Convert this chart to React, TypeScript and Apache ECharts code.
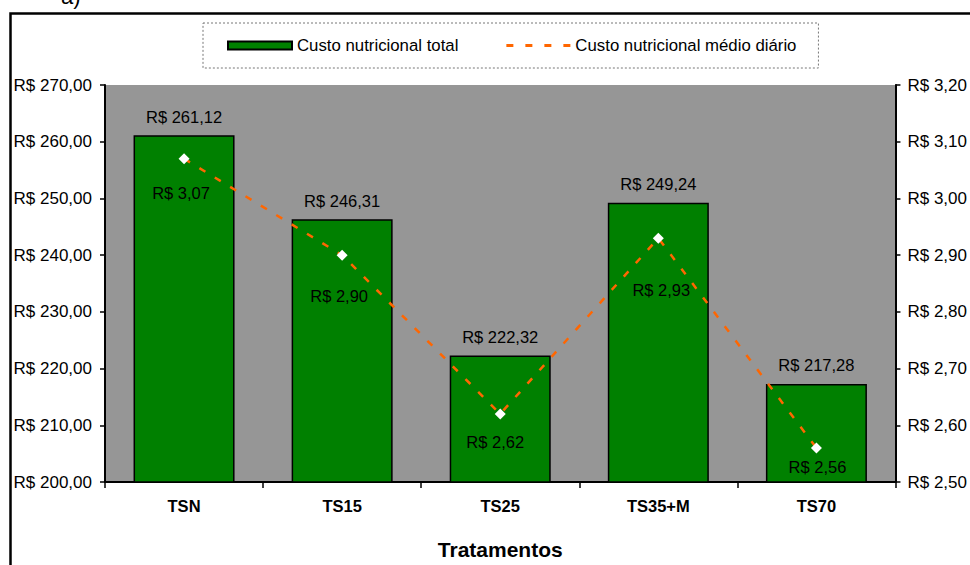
import React, { useEffect, useRef } from "react";
import * as echarts from "echarts";

const categories = ["TSN", "TS15", "TS25", "TS35+M", "TS70"];
const totalCost = [261.12, 246.31, 222.32, 249.24, 217.28];
const dailyCost = [3.07, 2.9, 2.62, 2.93, 2.56];
const seriesNames = ["Custo nutricional total", "Custo nutricional médio diário"];
const leftAxisRange = { min: 200, max: 270, interval: 10 };
const rightAxisRange = { min: 2.5, max: 3.2, interval: 0.1 };
const axisTitle = "Tratamentos";
const panelTag = "a)";

// label placement offsets (style only), relative to each marker
const dailyLabelOffsets = [
  [-3, 34],
  [-3, 41],
  [-5, 28],
  [3, 52],
  [1, 19],
];

const FONT = "'Liberation Sans', Arial, Helvetica, sans-serif";
const brl = (v: number) => "R$ " + v.toFixed(2).replace(".", ",");

export default function App() {
  const ref = useRef<HTMLDivElement>(null);
  useEffect(() => {
    if (!ref.current) return;
    const chart = echarts.init(ref.current, undefined, { renderer: "svg" });
    const dashIcon =
      "path://M0,0h7v3h-7z M19,0h7v3h-7z M38,0h7v3h-7z M57,0h7v3h-7z";
    chart.setOption({
      animation: false,
      backgroundColor: "#ffffff",
      textStyle: { fontFamily: FONT },
      graphic: [
        {
          type: "rect",
          shape: { x: 10.5, y: 13.5, width: 1000, height: 700 },
          style: { fill: "none", stroke: "#000", lineWidth: 2.5 },
          silent: true,
        },
        {
          type: "text",
          x: 61,
          y: 7,
          style: {
            text: panelTag,
            font: "22px " + FONT,
            fill: "#000",
            verticalAlign: "bottom",
          },
          silent: true,
        },
      ],
      legend: {
        left: 203,
        top: 23,
        itemWidth: 64,
        itemHeight: 8,
        itemGap: 48,
        padding: [14, 22, 14, 24],
        backgroundColor: "#ffffff",
        borderColor: "#777",
        borderWidth: 1,
        borderType: [2, 2],
        textStyle: { fontSize: 16.8, color: "#000", fontFamily: FONT, lineHeight: 17 },
        data: [
          { name: seriesNames[0], icon: "rect" },
          {
            name: seriesNames[1],
            icon: dashIcon,
            itemStyle: { color: "#FF6600", borderWidth: 0 },
          },
        ],
        selectedMode: false,
      },
      grid: {
        left: 105,
        right: 67,
        top: 85,
        bottom: 83,
        show: true,
        backgroundColor: "#969696",
        borderWidth: 0,
      },
      xAxis: {
        type: "category",
        data: categories,
        name: axisTitle,
        nameLocation: "middle",
        nameGap: 57,
        nameTextStyle: { fontSize: 21, fontWeight: "bold", color: "#000", fontFamily: FONT },
        axisLine: { lineStyle: { color: "#000", width: 2 } },
        axisTick: { show: true, length: 6, lineStyle: { color: "#000", width: 1.5 } },
        axisLabel: {
          fontSize: 16.5,
          fontWeight: "bold",
          color: "#000",
          margin: 15,
          fontFamily: FONT,
        },
        splitLine: { show: false },
      },
      yAxis: [
        {
          type: "value",
          min: leftAxisRange.min,
          max: leftAxisRange.max,
          interval: leftAxisRange.interval,
          position: "left",
          axisLine: { show: true, lineStyle: { color: "#000", width: 2 } },
          axisTick: { show: true, length: 5, lineStyle: { color: "#000", width: 1.5 } },
          axisLabel: {
            fontSize: 17,
            color: "#000",
            margin: 13,
            fontFamily: FONT,
            formatter: (v: number) => brl(v),
          },
          splitLine: { show: false },
        },
        {
          type: "value",
          min: rightAxisRange.min,
          max: rightAxisRange.max,
          interval: rightAxisRange.interval,
          position: "right",
          axisLine: { show: true, lineStyle: { color: "#000", width: 2 } },
          axisTick: { show: true, length: 5, lineStyle: { color: "#000", width: 1.5 } },
          axisLabel: {
            fontSize: 17,
            color: "#000",
            margin: 12,
            fontFamily: FONT,
            formatter: (v: number) => brl(v),
          },
          splitLine: { show: false },
        },
      ],
      series: [
        {
          name: seriesNames[0],
          type: "bar",
          yAxisIndex: 0,
          data: totalCost,
          barWidth: 101,
          itemStyle: { color: "#008000", borderColor: "#000", borderWidth: 1.5 },
          label: {
            show: true,
            position: "top",
            distance: 10,
            fontSize: 16.5,
            color: "#000",
            fontFamily: FONT,
            formatter: (p: any) => brl(p.value),
          },
          z: 2,
        },
        {
          name: seriesNames[1],
          type: "line",
          yAxisIndex: 1,
          data: dailyCost.map((v, i) => ({
            value: v,
            label: { offset: dailyLabelOffsets[i] },
          })),
          symbol: "diamond",
          symbolSize: 11,
          itemStyle: { color: "#ffffff", borderWidth: 0 },
          lineStyle: { color: "#FF6600", width: 2.5, type: [7, 11] },
          label: {
            show: true,
            position: "inside",
            fontSize: 16.5,
            color: "#000",
            fontFamily: FONT,
            formatter: (p: any) => brl(p.value),
          },
          z: 3,
        },
      ],
    });
    return () => chart.dispose();
  }, []);
  return (
    <div
      ref={ref}
      style={{ position: "fixed", left: 0, top: 0, width: 970, height: 565 }}
    />
  );
}
